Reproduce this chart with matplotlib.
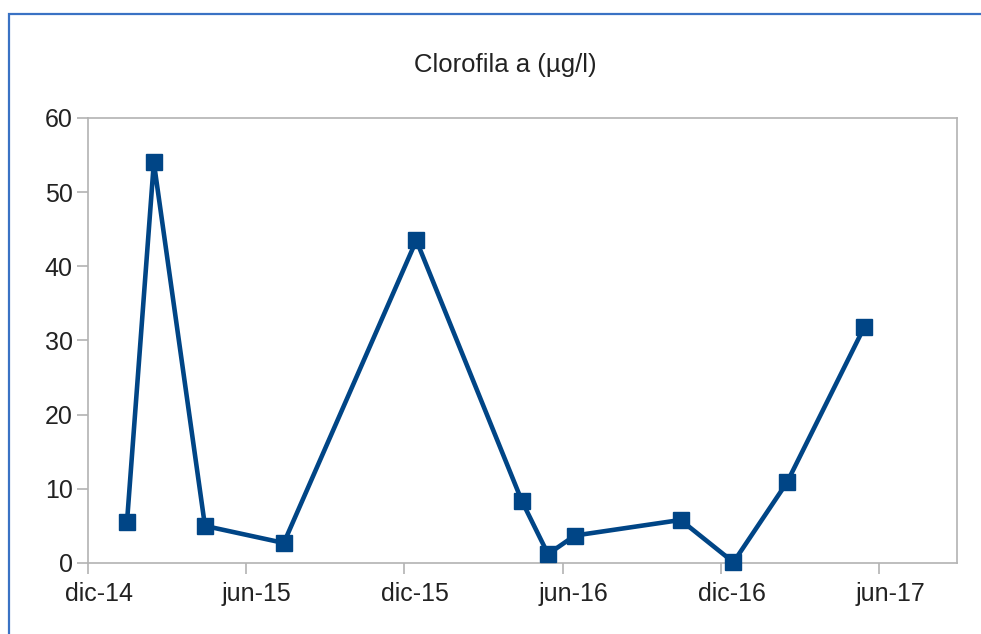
import matplotlib
matplotlib.use('Agg')
import matplotlib.pyplot as plt
import matplotlib.dates as mdates
import matplotlib.transforms as mtransforms
from matplotlib.patches import Rectangle
import datetime as dt

plt.rcParams['font.family'] = ['Liberation Sans', 'DejaVu Sans']

sample_dates = ['2015-01-15', '2015-02-15', '2015-04-15', '2015-07-15',
                '2015-12-15', '2016-04-15', '2016-05-15', '2016-06-15',
                '2016-10-15', '2016-12-15', '2017-02-15', '2017-05-15']
chl_values = [5.5, 54.0, 5.0, 2.7, 43.5, 8.3, 1.2, 3.7, 5.8, 0.1, 10.9, 31.8]

tick_dates = ['2014-12-01', '2015-06-01', '2015-12-01',
              '2016-06-01', '2016-12-01', '2017-06-01']
tick_labels = ['dic-14', 'jun-15', 'dic-15', 'jun-16', 'dic-16', 'jun-17']

y_ticks = [0, 10, 20, 30, 40, 50, 60]

to_date = lambda s: dt.datetime.strptime(s, '%Y-%m-%d')
x = [to_date(d) for d in sample_dates]

fig = plt.figure(figsize=(9.81, 6.34), dpi=100)
ax = fig.add_axes([0.0897, 0.112, 0.8858, 0.702])

ax.plot(x, chl_values, color='#004586', linewidth=3.3,
        marker='s', markersize=12, markerfacecolor='#004586',
        markeredgecolor='#004586', clip_on=False, zorder=3)

ax.set_xlim(to_date('2014-12-01'), to_date('2017-08-30'))
ax.set_ylim(0, 60)
ax.set_xticks([mdates.date2num(to_date(d)) for d in tick_dates])
ax.set_xticklabels(tick_labels)
ax.set_yticks(y_ticks)

for sp in ax.spines.values():
    sp.set_color('#b3b3b3')
    sp.set_linewidth(1.2)

ax.tick_params(axis='both', colors='#b3b3b3', labelcolor='#222222',
               labelsize=18, length=8, width=1.2)
ax.tick_params(axis='x', pad=6)
ax.tick_params(axis='y', pad=3)

# the spreadsheet draws month labels a little right of their ticks
shift = mtransforms.ScaledTranslation(0.11, 0, fig.dpi_scale_trans)
for lbl in ax.get_xticklabels():
    lbl.set_transform(lbl.get_transform() + shift)

fig.text(0.515, 0.897, 'Clorofila a (\u00b5g/l)', ha='center', va='center',
         fontsize=18.5, color='#222222')

# blue outer frame of the spreadsheet chart object
fig.patches.append(Rectangle((8.5 / 981, -0.05), 1.2, 1.05 - 13.5 / 634,
                             transform=fig.transFigure, fill=False,
                             edgecolor='#3a72c4', linewidth=1.6))

fig.savefig('out.png', dpi=100)
